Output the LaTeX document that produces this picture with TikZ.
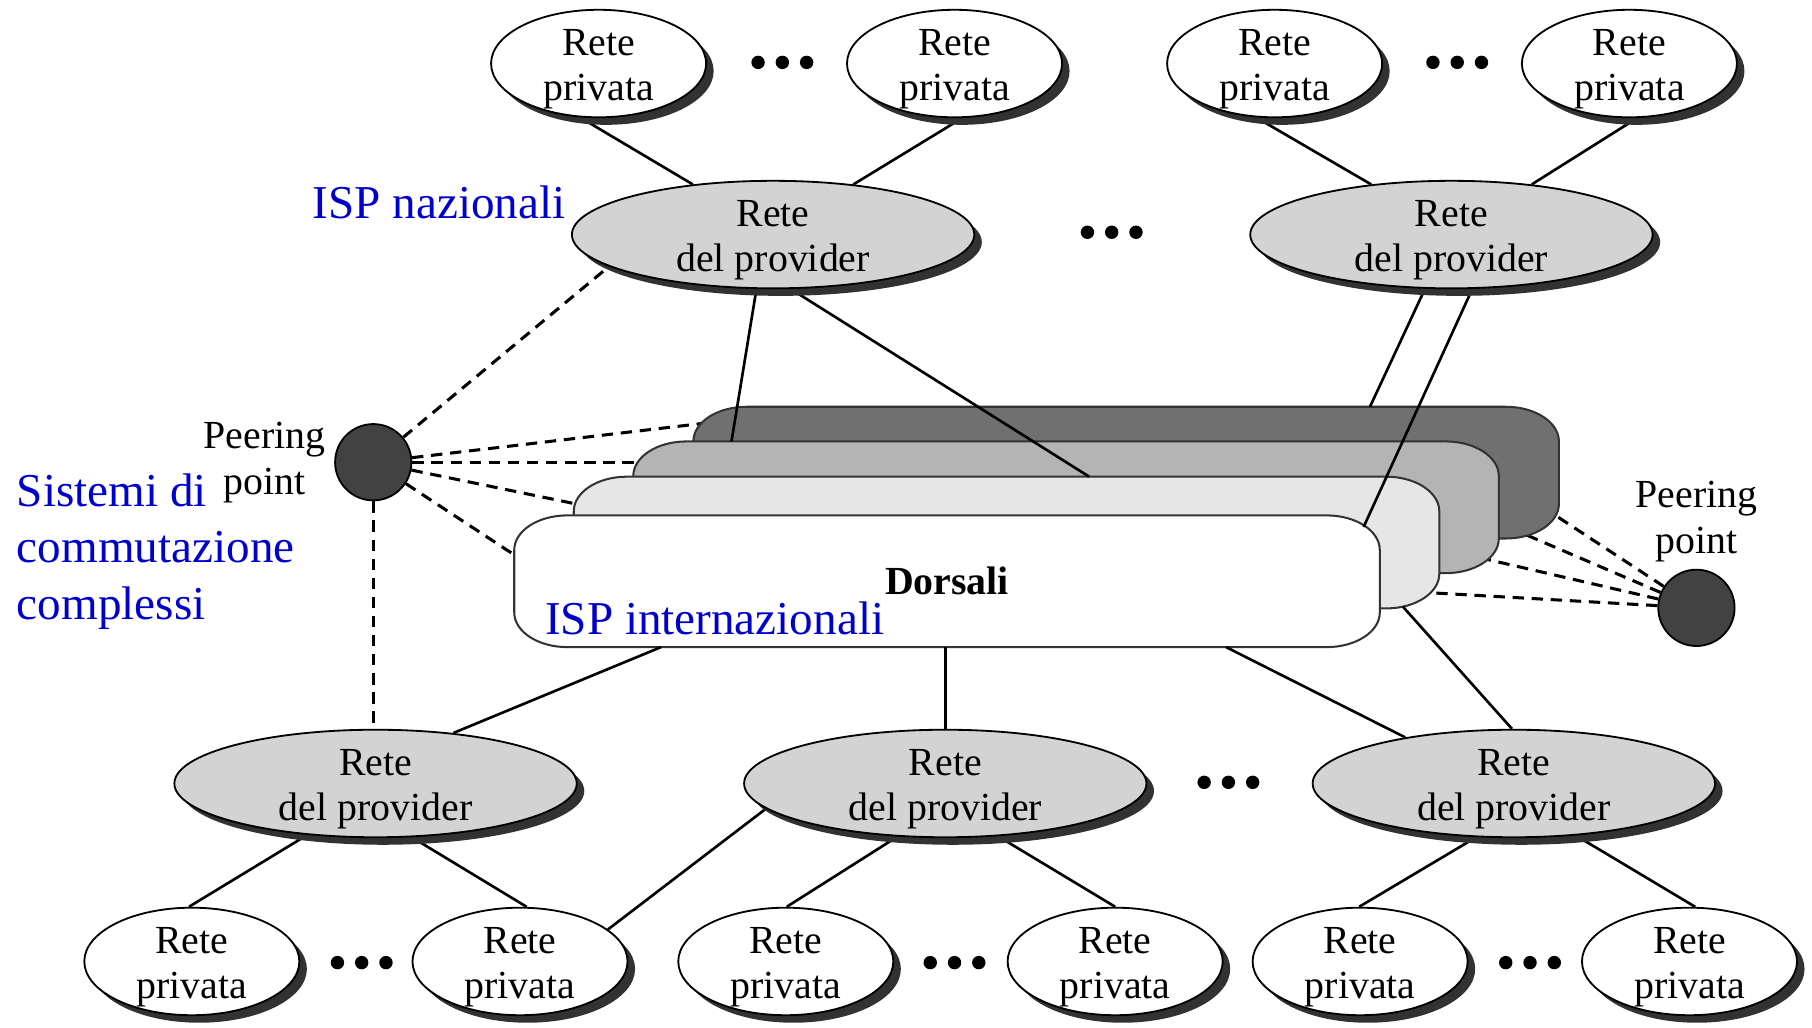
\documentclass[tikz,border=0pt]{standalone}
\usepackage{fontspec}
\setmainfont{Liberation Serif}
\usetikzlibrary{shapes.geometric,shadows}
\pgfdeclarelayer{paper}
\pgfdeclarelayer{peer}
\pgfdeclarelayer{bone}
\pgfdeclarelayer{links}
\pgfsetlayers{paper,peer,bone,links,main}
\definecolor{ispblue}{RGB}{0,0,204}
\definecolor{provfill}{RGB}{211,211,211}
\definecolor{shadowc}{RGB}{50,50,50}
\definecolor{ppfill}{RGB}{66,66,66}
\definecolor{bdark}{RGB}{112,112,112}
\definecolor{bmid}{RGB}{180,180,180}
\definecolor{blight}{RGB}{230,230,230}
\newcommand{\twoline}[2]{\rule{0pt}{9.2pt}#1\\#2}
\tikzset{
  blk/.style={font=\fontsize{9.8}{10.9}\selectfont, align=center, text=black},
  net/.style={ellipse, draw=black, line width=0.45pt, inner xsep=0pt, inner ysep=-3pt, blk,
     general shadow={fill=shadowc, draw=none, shadow xshift=0.065cm, shadow yshift=-0.065cm}},
  priv/.style={net, fill=white, minimum width=1.86cm, minimum height=0.93cm},
  prov/.style={net, fill=provfill, minimum width=3.48cm, minimum height=0.93cm},
  pp/.style={circle, draw=black, line width=0.45pt, fill=ppfill, minimum size=0.66cm, inner sep=0pt},
  peerlbl/.style={font=\fontsize{9.8}{11.3}\selectfont, align=center, inner sep=0pt, anchor=north},
  isplbl/.style={font=\fontsize{11.6}{13.9}\selectfont, text=ispblue, inner sep=0pt, align=left},
  link/.style={draw=black, line width=0.65pt},
  peerlink/.style={draw=black, line width=0.75pt, dash pattern=on 2.8pt off 1.9pt},
  bblayer/.style={draw=black!80, line width=0.5pt},
}
\begin{document}
\begin{tikzpicture}[x=0.01cm, y=-0.01cm]
\useasboundingbox (0,0) rectangle (1568,889);
\begin{pgfonlayer}{paper}
\fill[white] (0,0) rectangle (1568,889);
\end{pgfonlayer}

% private networks (top)
\node[priv] (P1) at (518,55) {\twoline{Rete}{privata}};
\node[priv] (P2) at (826,55) {\twoline{Rete}{privata}};
\node[priv] (P3) at (1103,55) {\twoline{Rete}{privata}};
\node[priv] (P4) at (1410,55) {\twoline{Rete}{privata}};
% provider networks
\node[prov] (N1) at (669,203) {\twoline{Rete}{del provider}};
\node[prov] (N2) at (1256,203) {\twoline{Rete}{del provider}};
\node[prov] (B1) at (325,678) {\twoline{Rete}{del provider}};
\node[prov] (B2) at (818,678) {\twoline{Rete}{del provider}};
\node[prov] (B3) at (1310,678) {\twoline{Rete}{del provider}};
% private networks (bottom)
\node[priv] (Q1) at (166,832) {\twoline{Rete}{privata}};
\node[priv] (Q2) at (450,832) {\twoline{Rete}{privata}};
\node[priv] (Q3) at (680,832) {\twoline{Rete}{privata}};
\node[priv] (Q4) at (965,832) {\twoline{Rete}{privata}};
\node[priv] (Q5) at (1177,832) {\twoline{Rete}{privata}};
\node[priv] (Q6) at (1462,832) {\twoline{Rete}{privata}};
% peering points
\node[pp] (PP1) at (323,400) {};
\node[pp] (PP2) at (1468,526) {};
\node[peerlbl] (PL1) at (229,365) {Peering\\point};
\node[peerlbl] (PL2) at (1468,416) {Peering\\point};
% blue labels
\node[isplbl, anchor=base west] (ISPN) at (270,189) {ISP nazionali};
\node[isplbl, anchor=north west] (SCC) at (14,409) {Sistemi di\\commutazione\\complessi};

% backbone layers
\begin{pgfonlayer}{bone}
\foreach \xa/\ya/\col in {600/352/bdark, 548/382/bmid, 496.5/412.5/blight, 445/446/white}{
  \path[bblayer, fill=\col] (\xa+46,\ya) -- (\xa+703,\ya)
     .. controls (\xa+728.4,\ya) and (\xa+749,\ya+13.4) .. (\xa+749,\ya+30)
     -- (\xa+749,\ya+84)
     .. controls (\xa+749,\ya+100.6) and (\xa+728.4,\ya+114) .. (\xa+703,\ya+114)
     -- (\xa+46,\ya+114)
     .. controls (\xa+20.6,\ya+114) and (\xa,\ya+100.6) .. (\xa,\ya+84)
     -- (\xa,\ya+30)
     .. controls (\xa,\ya+13.4) and (\xa+20.6,\ya) .. (\xa+46,\ya) -- cycle;
}
\end{pgfonlayer}
\node[blk, font=\fontsize{9.8}{10.8}\selectfont\bfseries] (DOR) at (819.5,503) {Dorsali};
\node[isplbl, anchor=base west] (ISPI) at (471,549) {ISP internazionali};

% connector end points on the backbone
\coordinate (eA) at (633,382);
\coordinate (eB) at (942.5,412.5);
\coordinate (eC) at (1185.5,352);
\coordinate (eD) at (1180,456);
\coordinate (wA) at (572,560);
\coordinate (wB) at (818,560);
\coordinate (wC) at (1061,560);
\coordinate (lA) at (1214,525);
\coordinate (dA) at (620,365);
\coordinate (dB) at (570,400);
\coordinate (dC) at (515,439.5);
\coordinate (dD) at (460,490);
\coordinate (rA) at (1333,437.5);
\coordinate (rB) at (1307,457);
\coordinate (rC) at (1274.4,481.2);
\coordinate (rD) at (1221,512);

% dots
\foreach \cx/\cy in {677/54, 1261/54, 962/201, 1063/677, 313/833, 826/833, 1324/833}
  \foreach \dd in {-21,0,21}
    \fill (\cx+\dd,\cy) circle (0.058cm);

% peering links
\begin{pgfonlayer}{peer}
\draw[peerlink] (PP1) -- (N1.-169);
\draw[peerlink] (PP1) -- (dA);
\draw[peerlink] (PP1) -- (dB);
\draw[peerlink] (PP1) -- (dC);
\draw[peerlink] (PP1) -- (dD);
\draw[peerlink] (PP1) -- (PP1 |- B1.north);
\draw[peerlink] (PP2) -- (rA);
\draw[peerlink] (PP2) -- (rB);
\draw[peerlink] (PP2) -- (rC);
\draw[peerlink] (PP2) -- (rD);
\end{pgfonlayer}

% solid links
\begin{pgfonlayer}{links}
\draw[link] (P1.-109) -- (N1.148);
\draw[link] (P2.-82) -- (N1.32);
\draw[link] (P3.-109) -- (N2.148);
\draw[link] (P4.-82) -- (N2.32);
\draw[link] (N1.-107) -- (eA);
\draw[link] (N1.-72) -- (eB);
\draw[link] (N2.-116) -- (eC);
\draw[link] (N2.-69) -- (eD);
\draw[link] (wA) -- (B1.33);
\draw[link] (wB) -- (B2.north);
\draw[link] (wC) -- (B3.157);
\draw[link] (lA) -- (B3.92);
\draw[link] (B1.-143) -- (Q1.93);
\draw[link] (B1.-56) -- (Q2.83);
\draw[link] (B2.-172) -- (Q2.20);
\draw[link] (B2.-132) -- (Q3.89);
\draw[link] (B2.-45) -- (Q4.90);
\draw[link] (B3.-125) -- (Q5.91);
\draw[link] (B3.-40) -- (Q6.84);
\end{pgfonlayer}
\end{tikzpicture}
\end{document}
